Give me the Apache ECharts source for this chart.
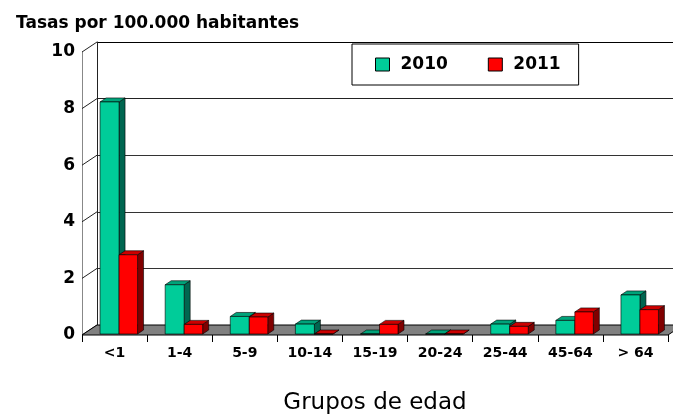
<!DOCTYPE html>
<html><head><meta charset="utf-8">
<script src="https://cdn.jsdelivr.net/npm/echarts@6/dist/echarts.min.js"></script>
<style>html,body{margin:0;padding:0;background:#fff}#c{width:673px;height:414px}</style>
</head><body><div id="c"></div>
<script>
var categories = ['<1', '1-4', '5-9', '10-14', '15-19', '20-24', '25-44', '45-64', '> 64'];
var values2010 = [8.2, 1.74, 0.62, 0.35, 0, 0, 0.35, 0.48, 1.38];
var values2011 = [2.8, 0.34, 0.6, 0, 0.34, 0, 0.27, 0.78, 0.86];
var yTicks = [0, 2, 4, 6, 8, 10];

var FONT = 'DejaVu Sans';
var DX = 15, DY = 10;      // wall depth
var BDX = 6, BDY = 4;      // bar depth

function barItem(offL, offR, face, side, top) {
  return function (params, api) {
    var i = api.value(0), v = api.value(1);
    var c = api.coord([i, v]);
    var b = api.coord([i, 0]);
    var x0 = c[0] + offL, x1 = c[0] + offR;
    var yb = b[1] - 1, yt = c[1] - 1;
    var st = {stroke: '#000', lineWidth: 0.6};
    return {type: 'group', children: [
      {type: 'polygon', shape: {points: [[x1, yt], [x1 + BDX, yt - BDY], [x1 + BDX, yb - BDY], [x1, yb]]},
        style: Object.assign({fill: side}, st)},
      {type: 'polygon', shape: {points: [[x0, yt], [x0 + BDX, yt - BDY], [x1 + BDX, yt - BDY], [x1, yt]]},
        style: Object.assign({fill: top}, st)},
      {type: 'rect', shape: {x: x0, y: yt, width: x1 - x0, height: yb - yt},
        style: Object.assign({fill: face}, st)}
    ]};
  };
}

var chart = echarts.init(document.getElementById('c'), null, {renderer: 'canvas'});
chart.setOption({
  animation: false,
  backgroundColor: '#fff',
  title: {text: 'Tasas por 100.000 habitantes', left: 11, top: 10,
    textStyle: {fontFamily: FONT, fontWeight: 'bold', fontSize: 17, color: '#000'}},
  legend: {
    data: ['2010', '2011'], left: 352, top: 44,
    backgroundColor: '#fff', borderColor: '#000', borderWidth: 1,
    padding: [12, 18, 12, 23], itemGap: 40, itemWidth: 14, itemHeight: 13,
    icon: 'rect',
    itemStyle: {borderColor: '#000', borderWidth: 1},
    textStyle: {fontFamily: FONT, fontWeight: 'bold', fontSize: 17, color: '#000', padding: [0, 0, 0, 6]}
  },
  grid: [
    {left: 97, right: 0, top: 42, bottom: 89, outerBoundsMode: 'none', containLabel: false},
    {left: 82, right: 5, top: 52, bottom: 79, outerBoundsMode: 'none', containLabel: false}
  ],
  xAxis: [
    {gridIndex: 0, type: 'category', data: categories, show: false},
    {gridIndex: 1, type: 'category', data: categories,
      axisLine: {show: false},
      axisTick: {show: true, length: 7, lineStyle: {color: '#000'}},
      axisLabel: {fontFamily: FONT, fontWeight: 'bold', fontSize: 14, color: '#000', margin: 11, interval: 0},
      name: 'Grupos de edad', nameLocation: 'middle', nameGap: 57,
      nameTextStyle: {fontFamily: FONT, fontSize: 23, color: '#000'}}
  ],
  yAxis: [
    {gridIndex: 0, type: 'value', min: 0, max: 10, interval: 2,
      axisLabel: {show: false}, axisTick: {show: false},
      axisLine: {show: true, lineStyle: {color: '#222'}},
      splitLine: {show: true, lineStyle: {color: ['#333', '#333', '#333', '#333', '#222', '#000'], width: 1}}},
    {gridIndex: 1, type: 'value', min: 0, max: 10, interval: 2,
      axisLine: {show: true, lineStyle: {color: '#888'}},
      axisTick: {show: false}, splitLine: {show: false},
      axisLabel: {fontFamily: FONT, fontWeight: 'bold', fontSize: 17, color: '#000', margin: 7}}
  ],
  series: [
    { // left wall connectors
      type: 'custom', xAxisIndex: 1, yAxisIndex: 1, silent: true, z: 1,
      data: yTicks.map(function (t) { return [0, t]; }),
      renderItem: function (params, api) {
        var c = api.coord([0, api.value(1)]);
        var w = api.size([1, 0])[0];
        var x = c[0] - w / 2;
        return {type: 'line', shape: {x1: x, y1: c[1], x2: x + DX, y2: c[1] - DY},
          style: {stroke: '#222', lineWidth: 1}};
      }
    },
    { // floor
      type: 'custom', xAxisIndex: 1, yAxisIndex: 1, silent: true, z: 2,
      data: [[0, 0]],
      renderItem: function (params, api) {
        var n = categories.length;
        var w = api.size([1, 0])[0];
        var a = api.coord([0, 0]), z = api.coord([n - 1, 0]);
        var xl = a[0] - w / 2, xr = z[0] + w / 2, y = a[1];
        return {type: 'polygon',
          shape: {points: [[xl, y], [xr, y], [xr + DX, y - DY], [xl + DX, y - DY]]},
          style: {fill: '#808080', stroke: '#000', lineWidth: 1}};
      }
    },
    {
      name: '2010', type: 'custom', xAxisIndex: 1, yAxisIndex: 1, z: 3,
      itemStyle: {color: '#00CC99'},
      data: values2010.map(function (v, i) { return [i, v]; }),
      renderItem: barItem(-14.5, 4.5, '#00CC99', '#006650', '#00A37A')
    },
    {
      name: '2011', type: 'custom', xAxisIndex: 1, yAxisIndex: 1, z: 4,
      itemStyle: {color: '#FF0000'},
      data: values2011.map(function (v, i) { return [i, v]; }),
      renderItem: barItem(4.5, 23, '#FF0000', '#800000', '#CC0000')
    }
  ]
});
</script></body></html>
